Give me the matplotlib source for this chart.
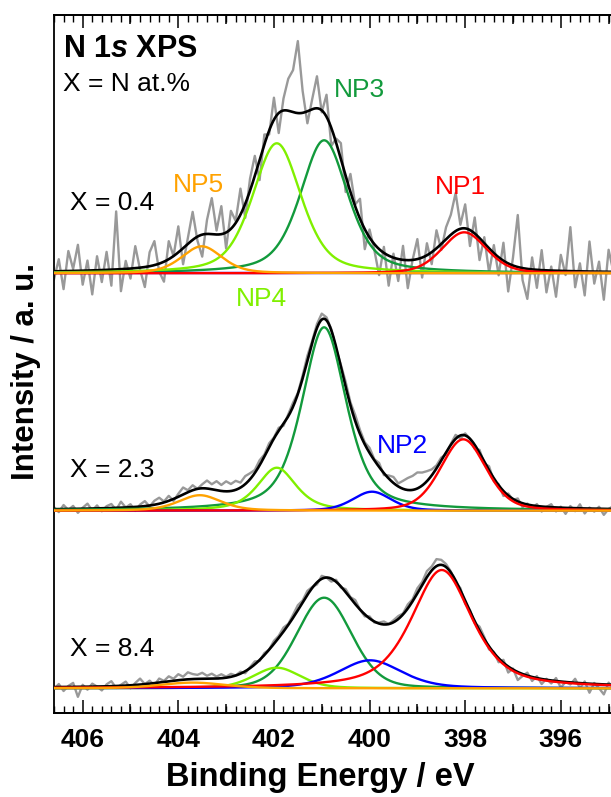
import numpy as np
import matplotlib
matplotlib.use("Agg")
import matplotlib.pyplot as plt
from matplotlib.ticker import MultipleLocator

plt.rcParams['font.family'] = ['Liberation Sans', 'DejaVu Sans']
plt.rcParams['mathtext.fontset'] = 'custom'
plt.rcParams['mathtext.rm'] = 'Liberation Sans'
plt.rcParams['mathtext.it'] = 'Liberation Sans:italic'
plt.rcParams['mathtext.bf'] = 'Liberation Sans:bold'
plt.rcParams['mathtext.bfit'] = 'Liberation Sans:italic:bold'

# ---------------- data ----------------
# measured energy grid (eV)
e_start, e_step, n_pts = 406.6, 0.1, 118
energy = np.round(e_start - e_step * np.arange(n_pts), 2)

components = ['NP1', 'NP2', 'NP3', 'NP4', 'NP5']
samples = ['X = 0.4', 'X = 2.3', 'X = 8.4']
offsets = [439.4, 202.0, 24.4]          # vertical offset of each spectrum (a.u.)

# fitted components: centre (eV), height (a.u.), FWHM (eV), Lorentz fraction
centers_04 = [398.02, 399.95, 400.95, 401.94, 403.51]
heights_04 = [41.0, 0.0, 133.0, 130.0, 27.0]
fwhm_04 = [1.10, 1.00, 1.18, 1.20, 1.00]
eta_04 = [0.30, 0.30, 0.50, 0.45, 0.40]

centers_23 = [398.04, 399.95, 400.95, 401.94, 403.55]
heights_23 = [71.4, 19.0, 183.4, 43.0, 15.5]
fwhm_23 = [1.12, 0.95, 1.10, 0.95, 1.05]
eta_23 = [0.30, 0.35, 0.55, 0.60, 0.45]

centers_84 = [398.49, 399.99, 400.95, 401.94, 403.70]
heights_84 = [118.3, 28.0, 90.6, 20.6, 5.7]
fwhm_84 = [1.50, 1.55, 1.35, 1.15, 1.60]
eta_84 = [0.60, 0.40, 0.20, 0.30, 0.30]

# measured spectra: deviation of measured counts from the fit envelope (a.u.)
resid_04 = [-8, 12, -18, 20, 2, 26, -14, 10, -24, 14,
            -12, 18, -16, 58, -22, 8, -10, 22, -2, -20,
            14, 24, -8, -20, 18, 0, 26, -16, 6, 28,
            -4, -22, 14, 36, 4, 28, -16, 18, 2, 26,
            -14, 12, 20, -20, 10, -4, 22, -20, 12, 32,
            42, 72, 22, -12, 10, 32, -2, 22, -18, 4,
            16, -16, 18, 2, 20, -20, 8, -6, -26, 6,
            -30, 4, -22, 14, -28, 0, 20, -20, 12, -12,
            18, -6, 12, 20, 38, 4, 24, -16, 16, -22,
            6, -24, 8, -18, 18, -28, 8, 52, -12, -30,
            12, -18, 20, -22, 4, -26, 16, -4, 44, -16,
            8, -24, 30, -12, 10, -28, 22, 0]
resid_23 = [2, -3, 4, -1, 3, -4, 1, 5, -2, 3,
            -3, 2, 4, -2, 6, 0, 3, -4, 2, 5,
            -1, 4, 6, 1, 5, -2, 3, 7, 2, 5,
            0, 4, 8, 5, 9, 6, 10, 7, 9, 5,
            8, 6, 3, 5, 2, 4, 1, 3, -2, 2,
            4, 1, 3, 5, 2, 4, 6, 3, 1, -2,
            2, 5, 3, 6, 4, 2, 5, 1, 4, -2,
            3, 6, 3, 8, 12, 14, 16, 13, 10, 6,
            3, 3, -2, 1, 4, -3, 2, 0, -4, 3,
            -2, 4, -3, 1, -5, 2, -1, 3, -4, 1,
            -3, 2, -5, 0, 3, -4, 1, -6, 2, -3,
            4, -5, 1, -3, 2, -6, 0, 3]
resid_84 = [-2, 3, -4, 1, 4, -10, 2, -3, 3, 0,
            -4, 2, 5, -2, 1, 4, -3, 2, 6, 0,
            3, -2, 4, 1, 5, 2, 6, 3, 7, 5,
            4, 6, 3, 5, 2, 4, 1, 3, 0, 2,
            -2, 1, 3, -1, 2, 0, 3, 2, 4, 1,
            3, 5, 2, 4, 1, -2, 3, 0, -3, 2,
            -1, 3, 1, 4, 0, -2, 2, -1, 1, 3,
            0, 2, 3, 1, 4, 2, 5, 3, 6, 4,
            7, 5, 3, 1, -2, 2, -3, 1, -2, 4,
            2, -3, 1, -4, 3, -6, 1, -8, -2, 3,
            -4, 2, -5, 1, -3, 3, -6, 0, -2, 4,
            -5, 2, -9, 1, -4, -10, 2, -3]

fits = [
    (centers_04, heights_04, fwhm_04, eta_04, resid_04),
    (centers_23, heights_23, fwhm_23, eta_23, resid_23),
    (centers_84, heights_84, fwhm_84, eta_84, resid_84),
]

# ---------------- styles ----------------
comp_colors = {'NP1': '#ff0000', 'NP2': '#0000ff', 'NP3': '#129a3c',
               'NP4': '#80f000', 'NP5': '#ffa200'}
draw_order = ['NP3', 'NP4', 'NP2', 'NP1', 'NP5']
W, H = 611, 797


def fx(x):
    return x / W


def fy(y):
    return 1 - y / H


def pseudo_voigt(e, c, w, eta):
    d = (e - c) / w
    return (1 - eta) * np.exp(-4 * np.log(2) * d ** 2) + eta / (1 + 4 * d ** 2)


fig = plt.figure(figsize=(W / 100, H / 100), dpi=100)
ax = fig.add_axes([fx(54), fy(712.7), fx(W - 54), (712.7 - 14.7) / H])

x_lo, x_hi = 406.6, 394.95
fine = np.linspace(406.6, 394.9, 700)

for (cen, hei, fw, et, res), off in zip(fits, offsets):
    env_fine = off + sum(h * pseudo_voigt(fine, c, w, e) for c, h, w, e in zip(cen, hei, fw, et))
    env_pts = off + sum(h * pseudo_voigt(energy, c, w, e) for c, h, w, e in zip(cen, hei, fw, et))
    ax.plot(energy, env_pts + np.array(res), color='#999999', lw=1.7, zorder=1)
    ax.plot(fine, env_fine, color='black', lw=1.9, zorder=2)
    for name in draw_order:
        k = components.index(name)
        ax.plot(fine, off + hei[k] * pseudo_voigt(fine, cen[k], fw[k], et[k]),
                color=comp_colors[name], lw=1.7, zorder=3)

ax.set_xlim(x_lo, x_hi)
ax.set_ylim(0, 698)
ax.set_yticks([])
ax.spines['right'].set_visible(False)
for s in ['left', 'top', 'bottom']:
    ax.spines[s].set_linewidth(1.3)

ax.xaxis.set_major_locator(MultipleLocator(2))
ax.xaxis.set_minor_locator(MultipleLocator(0.2))
ax.tick_params(axis='x', which='major', direction='in', length=9.5, width=1.1,
               top=True, bottom=True, labelsize=19, pad=11)
ax.tick_params(axis='x', which='minor', direction='in', length=4.7, width=1.0,
               top=True, bottom=True)
for lbl in ax.get_xticklabels():
    lbl.set_fontweight('bold')

for loc in ['bottom', 'top']:
    sec = ax.secondary_xaxis(loc)
    sec.xaxis.set_major_locator(MultipleLocator(2, offset=1))
    sec.tick_params(direction='in', length=6.5, width=1.1,
                    labelbottom=False, labeltop=False)
    for s in sec.spines.values():
        s.set_linewidth(1.3)

# texts
fig.text(fx(320), fy(786), 'Binding Energy / eV', fontsize=23.5, fontweight='bold',
         ha='center', va='baseline')
fig.text(fx(26), fy(371), 'Intensity / a. u.', fontsize=22.5, fontweight='bold',
         ha='center', va='center', rotation=90)

fig.text(fx(63), fy(56.7), r'N 1$\mathbfit{s}$ XPS', fontsize=22, fontweight='bold',
         ha='left', va='baseline')
fig.text(fx(63), fy(91), 'X = N at.%', fontsize=19, ha='left', va='baseline')

label_pos = [(70, 210), (70, 477), (70, 656)]
for txt, (px, py) in zip(samples, label_pos):
    fig.text(fx(px), fy(py), txt, fontsize=19, ha='left', va='baseline')

np_labels = {'NP5': (198, 192), 'NP3': (359, 97), 'NP1': (460, 194),
             'NP4': (261, 306), 'NP2': (403, 453)}
for name, (px, py) in np_labels.items():
    fig.text(fx(px), fy(py), name, fontsize=19, color=comp_colors[name],
             ha='center', va='baseline')

fig.savefig('out.png', dpi=100)
